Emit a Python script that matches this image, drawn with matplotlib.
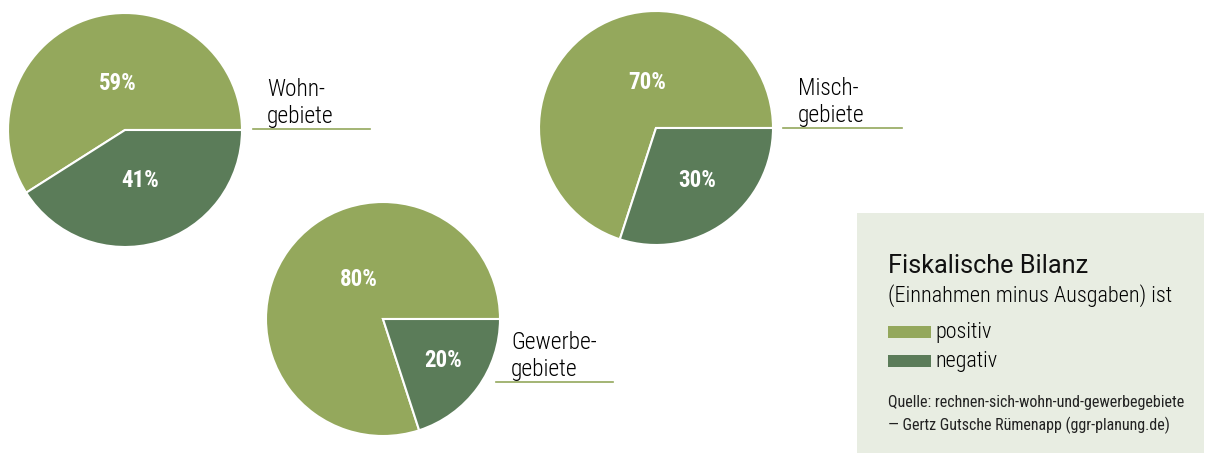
import matplotlib
matplotlib.use("Agg")
from matplotlib import pyplot as plt
from matplotlib import font_manager
from matplotlib.patches import Rectangle

# Daten
gebiete = ["Wohn-\ngebiete", "Misch-\ngebiete", "Gewerbe-\ngebiete"]
positiv = [59, 70, 80]
negativ = [41, 30, 20]

titel = "Fiskalische Bilanz"
untertitel = "(Einnahmen minus Ausgaben) ist"
legende = ["positiv", "negativ"]
quelle = ["Quelle: rechnen-sich-wohn-und-gewerbegebiete",
          "\u2014 Gertz Gutsche Rümenapp (ggr-planung.de)"]

hell = "#94a85c"
dunkel = "#5b7c59"
box_farbe = "#e8ede2"

# Schriften
vorhanden = {f.name for f in font_manager.fontManager.ttflist}
schmal = "DejaVu Sans"
for name in ["Roboto Condensed", "Liberation Sans Narrow", "Roboto"]:
    if name in vorhanden:
        schmal = name
        break

W, H = 1214, 454
fig = plt.figure(figsize=(W / 100, H / 100), dpi=100)
ax = fig.add_axes([0, 0, 1, 1])
renderer = fig.canvas.get_renderer()

def Y(y):
    return H - y

def einpassen(t, breite):
    # Schriftgroesse so setzen, dass der Text die Breite aus der Vorlage hat
    w = t.get_window_extent(renderer=renderer).width
    t.set_fontsize(t.get_fontsize() * breite / w)

# Layout (Pixel im Bild)
mitten = [(125, 130), (656, 128), (383, 319)]
radius = 117
pos_label = [(118, 90), (647, 89), (359, 286)]
neg_label = [(140, 187), (697, 187), (443, 367)]
text_xy = [(267, 123), (798, 122), (511, 376)]
linie = [(253, 370, 129), (783, 902, 128), (496, 613, 382)]

for i in range(3):
    cx, cy = mitten[i]
    ax.pie([positiv[i], negativ[i]], colors=[hell, dunkel], startangle=0,
           counterclock=True, center=(cx, Y(cy)), radius=radius,
           wedgeprops=dict(edgecolor="white", linewidth=1.5))
    x, y = pos_label[i]
    ax.text(x, Y(y), f"{positiv[i]}%", color="white", fontsize=16.5,
            fontweight="bold", family=schmal, ha="center", va="baseline")
    x, y = neg_label[i]
    ax.text(x, Y(y), f"{negativ[i]}%", color="white", fontsize=16.5,
            fontweight="bold", family=schmal, ha="center", va="baseline")
    x, y = text_xy[i]
    ax.text(x, Y(y), gebiete[i], color="black", fontsize=16.8,
            fontweight="light", family=schmal, ha="left", va="baseline",
            linespacing=1.22)
    x0, x1, yl = linie[i]
    ax.plot([x0, x1], [Y(yl), Y(yl)], color=hell, lw=1.2)

# Legendenkasten
ax.add_patch(Rectangle((857, Y(453)), 347, 240, facecolor=box_farbe,
                       edgecolor="none", zorder=0))
t = ax.text(888, Y(273), titel, fontsize=16, color="#111111", family="Roboto",
            va="baseline")
einpassen(t, 200)
t = ax.text(888, Y(302), untertitel, fontsize=14, color="black",
            fontweight="light", family=schmal, va="baseline")
einpassen(t, 285)

groesse = None
for j, (name, farbe) in enumerate(zip(legende, [hell, dunkel])):
    yy = 326 + j * 29
    ax.add_patch(Rectangle((888, Y(yy + 12)), 43, 12, facecolor=farbe,
                           edgecolor="none"))
    t = ax.text(935, Y(yy + 12), name, fontsize=15, color="black",
                fontweight="light", family=schmal, va="baseline")
    if groesse is None:
        einpassen(t, 57)
        groesse = t.get_fontsize()
    t.set_fontsize(groesse)

t = ax.text(888, Y(407), quelle[0], fontsize=10, color="#222222",
            family=schmal, va="baseline")
einpassen(t, 295)
ax.text(888, Y(430), quelle[1], fontsize=t.get_fontsize(), color="#222222",
        family=schmal, va="baseline")

ax.set_xlim(0, W)
ax.set_ylim(0, H)
ax.set_aspect("equal")
ax.axis("off")

fig.savefig("out.png", dpi=100)
